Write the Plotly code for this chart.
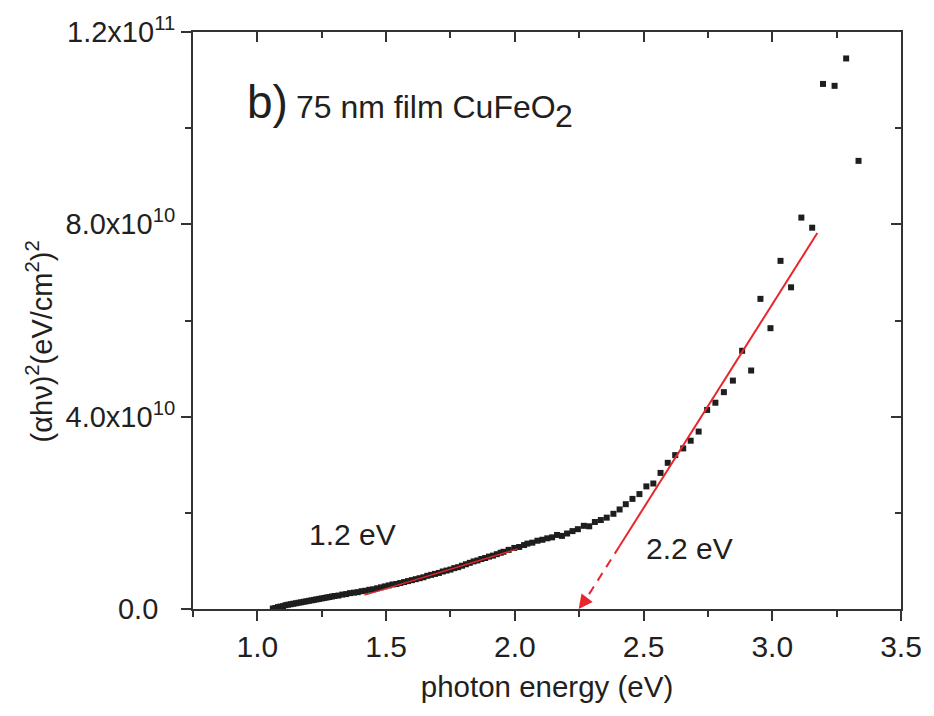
import numpy as np
import plotly.graph_objects as go

# photon energy (eV) and (alpha h nu)^2 in units of 1e10 (eV/cm^2)^2
energy = [1.06, 1.07, 1.08, 1.09, 1.10, 1.11, 1.12, 1.13, 1.14, 1.15, 1.16, 1.17, 1.18, 1.19,
          1.20, 1.21, 1.22, 1.23, 1.24, 1.25, 1.26, 1.27, 1.28, 1.29, 1.30, 1.315, 1.33, 1.345,
          1.36, 1.375, 1.39, 1.405, 1.42, 1.435, 1.45, 1.465, 1.48, 1.495, 1.51, 1.525, 1.54,
          1.555, 1.57, 1.585, 1.60, 1.615, 1.63, 1.645, 1.66, 1.675, 1.69, 1.705, 1.72, 1.735,
          1.75, 1.765, 1.78, 1.795, 1.81, 1.825, 1.84, 1.855, 1.87, 1.885, 1.90, 1.915, 1.93,
          1.945, 1.956, 1.976, 1.998, 2.017, 2.036, 2.049, 2.068, 2.088, 2.107, 2.126, 2.145,
          2.164, 2.183, 2.203, 2.224, 2.245, 2.268, 2.289, 2.311, 2.334, 2.357, 2.383, 2.407,
          2.431, 2.457, 2.484, 2.511, 2.538, 2.566, 2.594, 2.623, 2.654, 2.683, 2.714, 2.747,
          2.779, 2.812, 2.847, 2.883, 2.918, 2.954, 2.993, 3.032, 3.073, 3.113, 3.155, 3.197,
          3.242, 3.287, 3.335]
absorb_e10 = [0.01, 0.02, 0.04, 0.05, 0.06, 0.08, 0.09, 0.10, 0.11, 0.12, 0.13, 0.14, 0.15, 0.16,
              0.17, 0.18, 0.19, 0.20, 0.21, 0.22, 0.23, 0.24, 0.25, 0.26, 0.27, 0.28, 0.30, 0.31,
              0.33, 0.34, 0.35, 0.37, 0.38, 0.40, 0.41, 0.43, 0.45, 0.47, 0.49, 0.51, 0.52,
              0.54, 0.56, 0.58, 0.60, 0.62, 0.64, 0.66, 0.69, 0.71, 0.73, 0.75, 0.78, 0.80,
              0.82, 0.85, 0.87, 0.90, 0.93, 0.96, 0.99, 1.01, 1.04, 1.06, 1.09, 1.11, 1.14,
              1.17, 1.19, 1.23, 1.27, 1.29, 1.33, 1.36, 1.38, 1.42, 1.44, 1.47, 1.49,
              1.54, 1.52, 1.57, 1.62, 1.66, 1.73, 1.72, 1.81, 1.85, 1.90, 1.98, 2.07,
              2.18, 2.29, 2.39, 2.55, 2.61, 2.83, 3.04, 3.20, 3.34, 3.50, 3.69, 4.14,
              4.29, 4.51, 4.75, 5.37, 4.96, 6.45, 5.84, 7.24, 6.69, 8.14, 7.93, 10.92,
              10.88, 11.45, 9.32]

# linear fits (units 1e10)
fit_lo_x = [1.416, 2.011]
fit_lo_y = [0.29, 1.25]
fit_hi_x = [2.407, 3.175]
fit_hi_y = [1.31, 7.82]
ext_x = [2.407, 2.272]
ext_y = [1.31, 0.17]
arrow_tip = (2.248, 0.0)

x_ticks = [1.0, 1.5, 2.0, 2.5, 3.0, 3.5]
x_ticktext = ["1.0", "1.5", "2.0", "2.5", "3.0", "3.5"]
y_ticks = [0.0, 4e10, 8e10, 1.2e11]
y_ticktext = ["0.0<sup>\u00a0\u00a0\u00a0</sup>", "4.0x10<sup>10</sup>",
              "8.0x10<sup>10</sup>", "1.2x10<sup>11</sup>"]

SC = 1e10
FONT = "Liberation Sans, Arial, Helvetica, sans-serif"
TXT = "#231f20"
AX = "#333333"
RED = "#e8262d"

y = np.array(absorb_e10) * SC

fig = go.Figure()
fig.add_trace(go.Scatter(x=energy, y=y, mode="markers",
                         marker=dict(symbol="square", size=6, color="#1e1e1e", line=dict(width=0))))
fig.add_trace(go.Scatter(x=fit_lo_x, y=np.array(fit_lo_y) * SC, mode="lines",
                         line=dict(color=RED, width=1.3), hoverinfo="skip"))
fig.add_trace(go.Scatter(x=fit_hi_x, y=np.array(fit_hi_y) * SC, mode="lines",
                         line=dict(color=RED, width=2), xaxis="x2", yaxis="y2"))
fig.add_trace(go.Scatter(x=ext_x, y=np.array(ext_y) * SC, mode="lines",
                         line=dict(color=RED, width=2, dash="9px,7px"), xaxis="x2", yaxis="y2"))

xr = [0.75, 3.5]
yr = [0, 1.2e11]
common_x = dict(range=xr, showgrid=False, zeroline=False, showline=True, linecolor=AX, linewidth=2,
                tickvals=x_ticks, ticklen=10, tickwidth=2, tickcolor=AX)
common_y = dict(range=yr, showgrid=False, zeroline=False, showline=True, linecolor=AX, linewidth=2,
                tickvals=y_ticks, ticklen=10, tickwidth=2, tickcolor=AX)

fig.update_layout(
    width=934, height=716,
    margin=dict(l=193, r=24, t=30, b=107),
    plot_bgcolor="white", paper_bgcolor="white", showlegend=False,
    font=dict(family=FONT, color=TXT),
    xaxis=dict(**common_x, ticks="outside", ticktext=x_ticktext,
               tickfont=dict(size=30, family=FONT, color=TXT),
               minor=dict(dtick=0.25, tick0=0.75, ticks="outside", ticklen=6, tickwidth=2, tickcolor=AX),
               title=dict(text="photon energy (eV)", font=dict(size=29.5, family=FONT, color=TXT), standoff=14)),
    yaxis=dict(**common_y, ticks="outside", ticktext=y_ticktext,
               tickfont=dict(size=29, family=FONT, color=TXT),
               minor=dict(dtick=2e10, tick0=0, ticks="outside", ticklen=6, tickwidth=2, tickcolor=AX)),
    xaxis2=dict(**common_x, overlaying="x", side="top", ticks="inside", showticklabels=False,
                minor=dict(dtick=0.25, tick0=0.75, ticks="inside", ticklen=6, tickwidth=2, tickcolor=AX)),
    yaxis2=dict(**common_y, overlaying="y", side="right", ticks="inside", showticklabels=False,
                minor=dict(dtick=2e10, tick0=0, ticks="inside", ticklen=6, tickwidth=2, tickcolor=AX)),
)

ann_font = dict(family=FONT, color=TXT)
fig.add_annotation(xref="paper", yref="paper", x=(38 - 193) / 717, y=(609 - 341) / 578,
                   text="(αhν)<sup>2</sup>(eV/cm<sup>2</sup>)<sup>2</sup>", textangle=-90, showarrow=False,
                   font=dict(size=29, **ann_font), xanchor="center", yanchor="middle")
fig.add_annotation(xref="paper", yref="paper", x=(246 - 193) / 717, y=(609 - 101) / 578,
                   text="b)", showarrow=False, font=dict(size=46, **ann_font),
                   xanchor="left", yanchor="middle")
fig.add_annotation(xref="paper", yref="paper", x=(295 - 193) / 717, y=(609 - 106) / 578,
                   text="75 nm film CuFeO", showarrow=False, font=dict(size=32, **ann_font),
                   xanchor="left", yanchor="middle")
fig.add_annotation(xref="paper", yref="paper", x=(558 - 193) / 717, y=(609 - 115) / 578,
                   text="2", showarrow=False, font=dict(size=32, **ann_font),
                   xanchor="left", yanchor="middle")
fig.add_annotation(x=1.368, y=1.54e10, text="1.2 eV", showarrow=False,
                   font=dict(size=30, **ann_font), xanchor="center", yanchor="middle")
fig.add_annotation(x=2.679, y=1.25e10, text="2.2 eV", showarrow=False,
                   font=dict(size=30, **ann_font), xanchor="center", yanchor="middle")
fig.add_annotation(x=arrow_tip[0], y=arrow_tip[1], ax=ext_x[1], ay=ext_y[1] * SC,
                   axref="x", ayref="y", text="", showarrow=True, arrowhead=2, arrowsize=1.4,
                   arrowwidth=2, arrowcolor=RED, standoff=0)

fig.write_html("out.html")
